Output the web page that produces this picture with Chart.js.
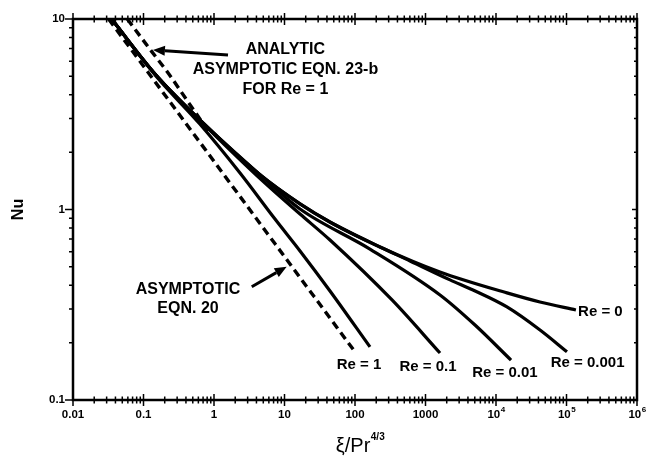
<!DOCTYPE html>
<html>
<head>
<meta charset="utf-8">
<script src="https://cdn.jsdelivr.net/npm/chart.js@4.4.1/dist/chart.umd.min.js"></script>
<style>
  html, body { margin: 0; padding: 0; background: #fff; }
  #wrap { width: 647px; height: 462px; position: relative; }
</style>
</head>
<body>
<div id="wrap"><canvas id="nuChart"></canvas></div>
<script>
const FONT = "'Liberation Sans', Arial, Helvetica, sans-serif";

// axis decades and labels (power labels get a superscript exponent)
const xDecades = [0.01, 0.1, 1, 10, 100, 1000, 1e4, 1e5, 1e6];
const xTickLabels = ['0.01', '0.1', '1', '10', '100', '1000', '10', '10', '10'];
const xTickExps = ['', '', '', '', '', '', '4', '5', '6'];
const yDecades = [0.1, 1, 10];
const yTickLabels = ['0.1', '1', '10'];

// numerical solutions, Nu against xi/Pr^(4/3)
const re0Xi = [0.036, 0.15, 0.63, 4.5, 16.6, 44, 226, 1600, 14300, 42000, 136000];
const re0Nu = [9.9, 5.08, 2.95, 1.52, 1.07, 0.86, 0.636, 0.47, 0.365, 0.327, 0.297];

const re0001Xi = [0.036, 0.15, 0.63, 4.5, 16.6, 44, 226, 603, 2230, 4720, 14300, 42100, 101600];
const re0001Nu = [9.9, 5.08, 2.95, 1.52, 1.07, 0.86, 0.636, 0.537, 0.427, 0.378, 0.308, 0.233, 0.179];

const re001Xi = [0.036, 0.15, 0.63, 4.5, 16.6, 163, 1606, 5040, 16330];
const re001Nu = [9.9, 5.08, 2.95, 1.52, 1.006, 0.62, 0.356, 0.2475, 0.162];

const re01Xi = [0.036, 0.15, 0.63, 1.69, 5.29, 16.6, 44.2, 335, 1606];
const re01Nu = [9.9, 5.08, 2.95, 2.053, 1.377, 0.947, 0.6915, 0.335, 0.1764];

const re1Xi = [0.036, 0.15, 0.63, 2.34, 7.33, 16.6, 44.2, 163];
const re1Nu = [9.9, 5.02, 2.81, 1.554, 0.891, 0.606, 0.3734, 0.19];

// asymptotes (dashed)
const eqn20Xi = [0.032, 100];
const eqn20Nu = [10, 0.179];
const eqn23bXi = [0.059, 0.131, 0.225, 0.41, 0.85];
const eqn23bNu = [10, 6.74, 5.19, 3.76, 2.55];

// annotations, anchored in data units
const notes = [
  { lines: ['ANALYTIC', 'ASYMPTOTIC EQN. 23-b', 'FOR Re = 1'], xi: 10.3, nu: 6.875, step: 20, size: 16, align: 'center' },
  { lines: ['ASYMPTOTIC', 'EQN. 20'], xi: 0.428, nu: 0.381, step: 19, size: 16, align: 'center' },
  { lines: ['Re = 1'], xi: 114, nu: 0.153, size: 15, align: 'center' },
  { lines: ['Re = 0.1'], xi: 1084, nu: 0.149, size: 15, align: 'center' },
  { lines: ['Re = 0.01'], xi: 13400, nu: 0.139, size: 15, align: 'center' },
  { lines: ['Re = 0.001'], xi: 199000, nu: 0.156, size: 15, align: 'center' },
  { lines: ['Re = 0'], xi: 146000, nu: 0.29, size: 15, align: 'left' }
];
const arrows = [
  { from: [1.58, 6.47], to: [0.136, 6.875] },
  { from: [3.43, 0.393], to: [10.74, 0.501] }
];

function pts(xs, ys) {
  return xs.map((x, i) => ({ x, y: ys[i] }));
}

function decadeTicks(decades) {
  const out = [];
  decades.forEach((d, i) => {
    if (i === decades.length - 1) {
      out.push({ value: d });
      return;
    }
    for (let k = 1; k <= 9; k++) {
      out.push({ value: k === 1 ? d : d * k });
    }
  });
  return out;
}

function solid(data) {
  return { data, borderColor: '#000', borderWidth: 3.2, pointRadius: 0, cubicInterpolationMode: 'monotone', fill: false };
}
function dashed(data) {
  return { data, borderColor: '#000', borderWidth: 3.4, borderDash: [8, 5], pointRadius: 0, cubicInterpolationMode: 'monotone', fill: false };
}

const decor = {
  id: 'decor',
  afterDraw(chart) {
    const { ctx, chartArea: a, scales: { x, y } } = chart;
    ctx.save();
    ctx.strokeStyle = '#000';
    ctx.fillStyle = '#000';

    // frame
    ctx.lineWidth = 2.5;
    ctx.strokeRect(a.left, a.top, a.right - a.left, a.bottom - a.top);

    // tick marks, crossing on top/bottom, out on left, in on right
    ctx.lineWidth = 1.5;
    ctx.beginPath();
    x.ticks.forEach(t => {
      const px = x.getPixelForValue(t.value);
      const h = xDecades.includes(t.value) ? 6 : 3.5;
      ctx.moveTo(px, a.bottom - h); ctx.lineTo(px, a.bottom + h);
      ctx.moveTo(px, a.top - h); ctx.lineTo(px, a.top + h);
    });
    y.ticks.forEach(t => {
      const py = y.getPixelForValue(t.value);
      const major = yDecades.includes(t.value);
      ctx.moveTo(a.left - (major ? 8 : 4), py); ctx.lineTo(a.left, py);
      ctx.moveTo(a.right, py); ctx.lineTo(a.right - (major ? 5 : 3), py);
    });
    ctx.stroke();

    // power-of-ten tick labels with raised exponent
    ctx.textBaseline = 'middle';
    ctx.textAlign = 'left';
    xDecades.forEach((d, i) => {
      if (!xTickExps[i]) return;
      ctx.font = `bold 11.5px ${FONT}`;
      const wb = ctx.measureText(xTickLabels[i]).width;
      ctx.font = `bold 8px ${FONT}`;
      const we = ctx.measureText(xTickExps[i]).width;
      const px = x.getPixelForValue(d) - (wb + we) / 2;
      const py = a.bottom + 15;
      ctx.font = `bold 11.5px ${FONT}`;
      ctx.fillText(xTickLabels[i], px, py);
      ctx.font = `bold 8px ${FONT}`;
      ctx.fillText(xTickExps[i], px + wb + 0.5, py - 5);
    });

    // notes
    notes.forEach(n => {
      ctx.font = `bold ${n.size}px ${FONT}`;
      ctx.textAlign = n.align;
      const px = x.getPixelForValue(n.xi);
      const py = y.getPixelForValue(n.nu);
      n.lines.forEach((line, i) => ctx.fillText(line, px, py + i * (n.step || 0)));
    });

    // arrows
    arrows.forEach(ar => {
      const x0 = x.getPixelForValue(ar.from[0]), y0 = y.getPixelForValue(ar.from[1]);
      const x1 = x.getPixelForValue(ar.to[0]), y1 = y.getPixelForValue(ar.to[1]);
      const ang = Math.atan2(y1 - y0, x1 - x0);
      const len = 12, half = 5;
      const bx = x1 - len * Math.cos(ang), by = y1 - len * Math.sin(ang);
      ctx.lineWidth = 3;
      ctx.beginPath();
      ctx.moveTo(x0, y0); ctx.lineTo(bx, by);
      ctx.stroke();
      ctx.beginPath();
      ctx.moveTo(x1, y1);
      ctx.lineTo(bx + half * Math.sin(ang), by - half * Math.cos(ang));
      ctx.lineTo(bx - half * Math.sin(ang), by + half * Math.cos(ang));
      ctx.closePath();
      ctx.fill();
    });

    // x axis title with superscript
    const main = 'ξ/Pr', sup = '4/3';
    ctx.textAlign = 'left';
    ctx.textBaseline = 'alphabetic';
    ctx.font = `20px ${FONT}`;
    const w1 = ctx.measureText(main).width;
    ctx.font = `bold 10px ${FONT}`;
    const w2 = ctx.measureText(sup).width;
    const sx = (a.left + a.right) / 2 + 5 - (w1 + w2) / 2;
    const base = a.bottom + 52;
    ctx.font = `20px ${FONT}`;
    ctx.fillText(main, sx, base);
    ctx.font = `bold 10px ${FONT}`;
    ctx.fillText(sup, sx + w1 + 0.5, base - 12);

    ctx.restore();
  }
};

new Chart(document.getElementById('nuChart'), {
  type: 'line',
  data: {
    datasets: [
      solid(pts(re0Xi, re0Nu)),
      solid(pts(re0001Xi, re0001Nu)),
      solid(pts(re001Xi, re001Nu)),
      solid(pts(re01Xi, re01Nu)),
      solid(pts(re1Xi, re1Nu)),
      dashed(pts(eqn20Xi, eqn20Nu)),
      dashed(pts(eqn23bXi, eqn23bNu))
    ]
  },
  options: {
    responsive: true,
    maintainAspectRatio: false,
    animation: false,
    layout: { padding: { top: 19, right: 10, bottom: 0, left: 0 } },
    plugins: { legend: { display: false }, tooltip: { enabled: false } },
    scales: {
      x: {
        type: 'logarithmic',
        min: 0.01,
        max: 1e6,
        afterBuildTicks: s => { s.ticks = decadeTicks(xDecades); },
        afterFit: s => { s.height = 62; s.paddingLeft = 0; s.paddingRight = 0; },
        grid: { display: false, drawTicks: false },
        border: { display: false },
        ticks: {
          autoSkip: false,
          maxRotation: 0,
          padding: 8,
          color: '#000',
          font: { family: FONT, size: 11.5, weight: 'bold' },
          callback: v => {
            const i = xDecades.indexOf(v);
            return i >= 0 && !xTickExps[i] ? xTickLabels[i] : '';
          }
        }
      },
      y: {
        type: 'logarithmic',
        min: 0.1,
        max: 10,
        afterBuildTicks: s => { s.ticks = decadeTicks(yDecades); },
        afterFit: s => { s.width = 73; },
        grid: { display: false, drawTicks: false },
        border: { display: false },
        title: {
          display: true,
          text: 'Nu',
          color: '#000',
          font: { family: FONT, size: 16, weight: 'bold' },
          padding: { top: 9, bottom: 0 }
        },
        ticks: {
          autoSkip: false,
          padding: 8,
          color: '#000',
          font: { family: FONT, size: 11.5, weight: 'bold' },
          callback: v => {
            const i = yDecades.indexOf(v);
            return i >= 0 ? yTickLabels[i] : '';
          }
        }
      }
    }
  },
  plugins: [decor]
});
</script>
</body>
</html>
